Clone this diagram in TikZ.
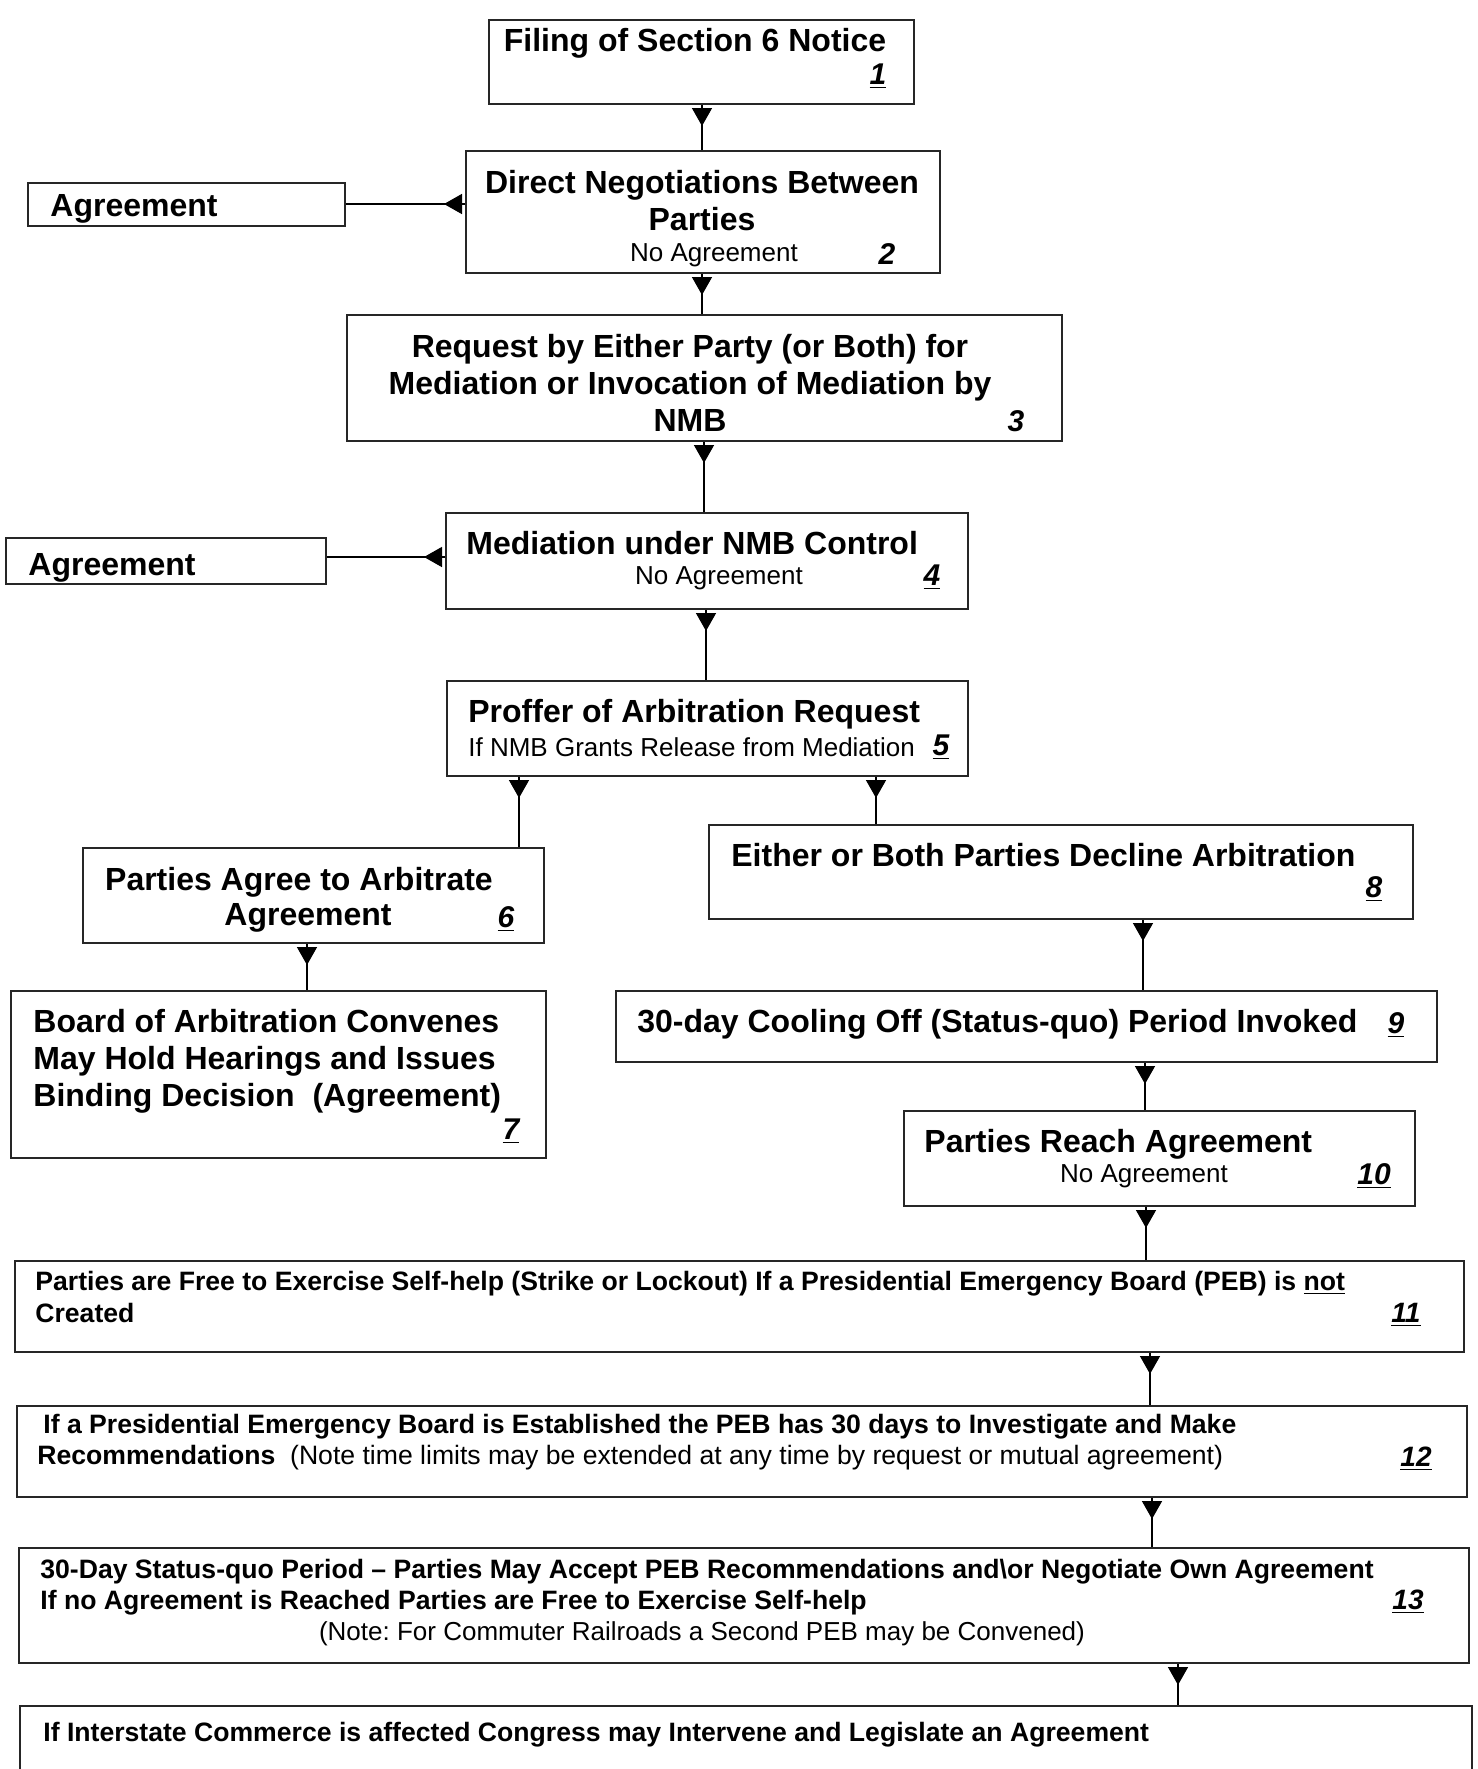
\documentclass[tikz,border=0pt]{standalone}
\usepackage{fontspec}
\setmainfont{Liberation Sans}
\usetikzlibrary{arrows.meta,decorations.markings,fit}
\frenchspacing

\begin{document}
\begin{tikzpicture}[x=0.5pt,y=-0.5pt,
    box/.style={draw=black!85,line width=1pt,rectangle,inner sep=0pt},
    ttl/.style={font=\fontsize{16}{18.5}\selectfont\bfseries,inner sep=0pt},
    sub/.style={font=\fontsize{13}{15.5}\selectfont,inner sep=0pt},
    wide/.style={font=\fontsize{13.3}{15.8}\selectfont\bfseries,inner sep=0pt,anchor=west,align=left},
    num/.style={font=\fontsize{15}{17}\selectfont\bfseries\itshape,inner sep=0pt},
    numsm/.style={num,font=\fontsize{14}{16}\selectfont\bfseries\itshape},
    flow/.style={line width=0.75pt,postaction={decorate},
      decoration={markings,mark=at position 10.5pt with {\arrow{Triangle[length=9pt,width=10pt]}}}}]
  \useasboundingbox (0,0) rectangle (1478,1769);
  \clip (0,0) rectangle (1478,1769);
  % boxes
  \node[box,fit={(489,20)(914,104)}] (b1) {};
  \node[box,fit={(466,151)(940,273)}] (b2) {};
  \node[box,fit={(28,183)(345,226)}] (ag1) {};
  \node[box,fit={(347,315)(1062,441)}] (b3) {};
  \node[box,fit={(446,513)(968,609)}] (b4) {};
  \node[box,fit={(6,538)(326,584)}] (ag2) {};
  \node[box,fit={(447,681)(968,776)}] (b5) {};
  \node[box,fit={(83,848)(544,943)}] (b6) {};
  \node[box,fit={(11,991)(546,1158)}] (b7) {};
  \node[box,fit={(709,825)(1413,919)}] (b8) {};
  \node[box,fit={(616,991)(1437,1062)}] (b9) {};
  \node[box,fit={(904,1111)(1415,1206)}] (b10) {};
  \node[box,fit={(15,1261)(1464,1352)}] (b11) {};
  \node[box,fit={(17,1406)(1467,1497)}] (b12) {};
  \node[box,fit={(19,1548)(1469,1663)}] (b13) {};
  \node[box,fit={(20,1706)(1472,1800)}] (b14) {};
  % texts
  \node[ttl] (t1) at (695,43) {Filing of Section 6 Notice};
  \node[num] (n1) at (878,76) {\underline{1}};
  \node[ttl,align=center] (t2) at (702,201) {Direct Negotiations Between\\Parties};
  \node[sub] (s2) at (714,255) {No Agreement};
  \node[num] (n2) at (887,254) {2};
  \node[ttl,anchor=west] (a1) at (50,209) {Agreement};
  \node[ttl,align=center] (t3) at (690,382.5) {Request by Either Party (or Both) for\\Mediation or Invocation of Mediation by\\NMB};
  \node[num] (n3) at (1016,421) {3};
  \node[ttl,anchor=west] (t4) at (466,543) {Mediation under NMB Control};
  \node[sub] (s4) at (719,578) {No Agreement};
  \node[num] (n4) at (932,577) {\underline{4}};
  \node[ttl,anchor=west] (a2) at (28,568) {Agreement};
  \node[ttl,anchor=west] (t5) at (468,714) {Proffer of Arbitration Request};
  \node[sub,anchor=west] (s5) at (468,747) {If NMB Grants Release from Mediation};
  \node[num] (n5) at (941,747) {\underline{5}};
  \node[ttl] (t6) at (299,882) {Parties Agree to Arbitrate};
  \node[ttl] (t6b) at (308,918) {Agreement};
  \node[num] (n6) at (506,919) {\underline{6}};
  \node[ttl,anchor=west,align=left] (t7) at (33,1061) {Board of Arbitration Convenes\\May Hold Hearings and Issues\\Binding Decision\ \ (Agreement)};
  \node[num] (n7) at (511,1131) {\underline{7}};
  \node[ttl,anchor=west] (t8) at (731,855) {Either or Both Parties Decline Arbitration};
  \node[num] (n8) at (1374,889) {\underline{8}};
  \node[ttl,anchor=west] (t9) at (637,1024) {30-day Cooling Off (Status-quo) Period Invoked};
  \node[num] (n9) at (1396,1025) {\underline{9}};
  \node[ttl,anchor=west] (t10) at (924,1144) {Parties Reach Agreement};
  \node[sub] (s10) at (1144,1176) {No Agreement};
  \node[num] (n10) at (1374,1176) {\underline{10}};
  \node[wide] (t11) at (35,1297) {Parties are Free to Exercise Self-help (Strike or Lockout) If a Presidential Emergency Board (PEB) is \underline{not}\\Created};
  \node[numsm] (n11) at (1406,1315) {\underline{11}};
  \node[wide] (t12) at (37,1442) {\hspace*{3pt}If a Presidential Emergency Board is Established the PEB has 30 days to Investigate and Make\\Recommendations\ \ {\mdseries (Note time limits may be extended at any time by request or mutual agreement)}};
  \node[numsm] (n12) at (1416,1459) {\underline{12}};
  \node[wide] (t13) at (40,1587) {30-Day Status-quo Period – Parties May Accept PEB Recommendations and\textbackslash or Negotiate Own Agreement\\If no Agreement is Reached Parties are Free to Exercise Self-help};
  \node[sub] (s13) at (702,1634) {(Note: For Commuter Railroads a Second PEB may be Convened)};
  \node[numsm] (n13) at (1408,1602) {\underline{13}};
  \node[wide] (t14) at (43,1735) {If Interstate Commerce is affected Congress may Intervene and Legislate an Agreement};
  % connectors
  \foreach \a/\b/\x in {b1/b2/702,b2/b3/702,b3/b4/704,b4/b5/706,b5/b6/519,b5/b8/876,b6/b7/307,
      b8/b9/1143,b9/b10/1145,b10/b11/1146,b11/b12/1150,b12/b13/1152,b13/b14/1178}
    {\coordinate (cx) at (\x,0);
     \draw[flow] (\a.south -| cx) -- (\b.north -| cx);}
  \coordinate (cy1) at (0,204);
  \coordinate (cy2) at (0,557);
  \draw[flow] (b2.west |- cy1) -- (ag1.east |- cy1);
  \draw[flow] (b4.west |- cy2) -- (ag2.east |- cy2);
\end{tikzpicture}
\end{document}
